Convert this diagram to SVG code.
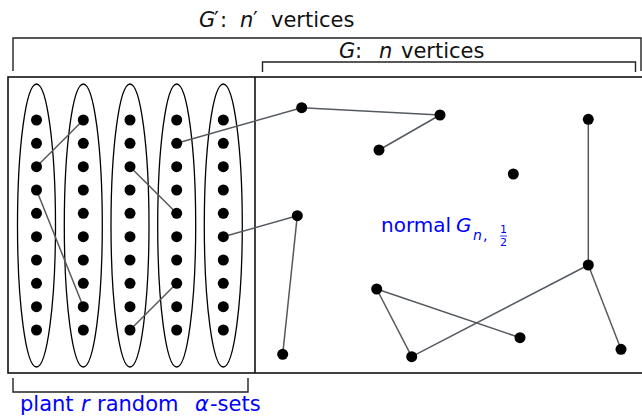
<svg xmlns="http://www.w3.org/2000/svg" width="642" height="416" viewBox="0 0 642 416">
<style>
.t{font-family:"DejaVu Sans",sans-serif;font-size:21px;fill:#111}
.b{fill:#0000ff}
.it{font-style:italic}
.dot{fill:#000}
.ell{fill:none;stroke:#000;stroke-width:1.3}
.frame{fill:none;stroke:#111;stroke-width:1.6}
.br{fill:none;stroke:#222;stroke-width:1.4}
.e{stroke:#555a60;stroke-width:1.5;fill:none}
</style>
<rect x="0" y="0" width="642" height="416" fill="#fff"/>
<g id="labels">
<text class="t" y="27"><tspan x="199" class="it">G</tspan><tspan x="214">′</tspan><tspan x="220">:</tspan><tspan x="240" class="it">n</tspan><tspan x="253">′</tspan><tspan x="271">vertices</tspan></text>
<text class="t" y="58"><tspan x="339" class="it">G</tspan><tspan x="355">:</tspan><tspan x="379" class="it">n</tspan><tspan x="401">vertices</tspan></text>
<text class="t b" y="411"><tspan x="20">plant</tspan><tspan x="81" class="it">r</tspan><tspan x="97">random</tspan><tspan x="195" class="it">α</tspan><tspan x="210">-sets</tspan></text>
<text class="t b" y="232" style="font-size:20px"><tspan x="381">normal</tspan><tspan x="456" class="it">G</tspan></text>
<text class="t b it" x="473" y="240" style="font-size:14px">n<tspan dx="1" style="font-style:normal">,</tspan></text>
<text class="t b" x="503.5" y="233" style="font-size:11px" text-anchor="middle">1</text>
<line x1="500" y1="236" x2="507" y2="236" stroke="#0000ff" stroke-width="0.8"/>
<text class="t b" x="503.5" y="246" style="font-size:11px" text-anchor="middle">2</text>
</g>
<g id="brackets">
<path class="br" d="M13,71 V38 H641 V71"/>
<path class="br" d="M262.5,72 V62 H635.5 V72"/>
<path class="br" d="M13,378 V392 H248 V378"/>
</g>
<g id="frame">
<rect class="frame" x="8" y="77" width="650" height="296"/>
<line class="frame" x1="255" y1="77" x2="255" y2="373"/>
</g>
<g id="sets">
<ellipse class="ell" cx="36.5" cy="225.5" rx="19" ry="141.5"/>
<ellipse class="ell" cx="83.3" cy="225.5" rx="19" ry="141.5"/>
<ellipse class="ell" cx="130" cy="225.5" rx="19" ry="141.5"/>
<ellipse class="ell" cx="176.7" cy="225.5" rx="19" ry="141.5"/>
<ellipse class="ell" cx="223.3" cy="225.5" rx="19" ry="141.5"/>
</g>
<g id="connectors">
<line class="e" x1="36.5" y1="166.7" x2="83.3" y2="120"/>
<line class="e" x1="36.5" y1="190" x2="83.3" y2="306.7"/>
<line class="e" x1="130" y1="166.7" x2="176.7" y2="213.3"/>
<line class="e" x1="130" y1="330" x2="176.7" y2="283.3"/>
<line class="e" x1="176.7" y1="143.3" x2="301.7" y2="107.7"/>
<line class="e" x1="223.3" y1="236.7" x2="297.3" y2="215.7"/>
<line class="e" x1="301.7" y1="107.7" x2="440" y2="115"/>
<line class="e" x1="440" y1="115" x2="379" y2="150"/>
<line class="e" x1="588.3" y1="119.3" x2="588.3" y2="265"/>
<line class="e" x1="297.3" y1="215.7" x2="282.7" y2="354.3"/>
<line class="e" x1="376.7" y1="289" x2="520" y2="337.7"/>
<line class="e" x1="376.7" y1="289" x2="411.7" y2="356.7"/>
<line class="e" x1="411.7" y1="356.7" x2="588.3" y2="265"/>
<line class="e" x1="588.3" y1="265" x2="621" y2="349.3"/>
</g>
<g id="c1">
<g id="v1_0"><circle class="dot" cx="36.5" cy="120" r="5.5"/></g>
<g id="v1_1"><circle class="dot" cx="36.5" cy="143.3" r="5.5"/></g>
<g id="v1_2"><circle class="dot" cx="36.5" cy="166.7" r="5.5"/></g>
<g id="v1_3"><circle class="dot" cx="36.5" cy="190" r="5.5"/></g>
<g id="v1_4"><circle class="dot" cx="36.5" cy="213.3" r="5.5"/></g>
<g id="v1_5"><circle class="dot" cx="36.5" cy="236.7" r="5.5"/></g>
<g id="v1_6"><circle class="dot" cx="36.5" cy="260" r="5.5"/></g>
<g id="v1_7"><circle class="dot" cx="36.5" cy="283.3" r="5.5"/></g>
<g id="v1_8"><circle class="dot" cx="36.5" cy="306.7" r="5.5"/></g>
<g id="v1_9"><circle class="dot" cx="36.5" cy="330" r="5.5"/></g>
</g>
<g id="c2">
<g id="v2_0"><circle class="dot" cx="83.3" cy="120" r="5.5"/></g>
<g id="v2_1"><circle class="dot" cx="83.3" cy="143.3" r="5.5"/></g>
<g id="v2_2"><circle class="dot" cx="83.3" cy="166.7" r="5.5"/></g>
<g id="v2_3"><circle class="dot" cx="83.3" cy="190" r="5.5"/></g>
<g id="v2_4"><circle class="dot" cx="83.3" cy="213.3" r="5.5"/></g>
<g id="v2_5"><circle class="dot" cx="83.3" cy="236.7" r="5.5"/></g>
<g id="v2_6"><circle class="dot" cx="83.3" cy="260" r="5.5"/></g>
<g id="v2_7"><circle class="dot" cx="83.3" cy="283.3" r="5.5"/></g>
<g id="v2_8"><circle class="dot" cx="83.3" cy="306.7" r="5.5"/></g>
<g id="v2_9"><circle class="dot" cx="83.3" cy="330" r="5.5"/></g>
</g>
<g id="c3">
<g id="v3_0"><circle class="dot" cx="130" cy="120" r="5.5"/></g>
<g id="v3_1"><circle class="dot" cx="130" cy="143.3" r="5.5"/></g>
<g id="v3_2"><circle class="dot" cx="130" cy="166.7" r="5.5"/></g>
<g id="v3_3"><circle class="dot" cx="130" cy="190" r="5.5"/></g>
<g id="v3_4"><circle class="dot" cx="130" cy="213.3" r="5.5"/></g>
<g id="v3_5"><circle class="dot" cx="130" cy="236.7" r="5.5"/></g>
<g id="v3_6"><circle class="dot" cx="130" cy="260" r="5.5"/></g>
<g id="v3_7"><circle class="dot" cx="130" cy="283.3" r="5.5"/></g>
<g id="v3_8"><circle class="dot" cx="130" cy="306.7" r="5.5"/></g>
<g id="v3_9"><circle class="dot" cx="130" cy="330" r="5.5"/></g>
</g>
<g id="c4">
<g id="v4_0"><circle class="dot" cx="176.7" cy="120" r="5.5"/></g>
<g id="v4_1"><circle class="dot" cx="176.7" cy="143.3" r="5.5"/></g>
<g id="v4_2"><circle class="dot" cx="176.7" cy="166.7" r="5.5"/></g>
<g id="v4_3"><circle class="dot" cx="176.7" cy="190" r="5.5"/></g>
<g id="v4_4"><circle class="dot" cx="176.7" cy="213.3" r="5.5"/></g>
<g id="v4_5"><circle class="dot" cx="176.7" cy="236.7" r="5.5"/></g>
<g id="v4_6"><circle class="dot" cx="176.7" cy="260" r="5.5"/></g>
<g id="v4_7"><circle class="dot" cx="176.7" cy="283.3" r="5.5"/></g>
<g id="v4_8"><circle class="dot" cx="176.7" cy="306.7" r="5.5"/></g>
<g id="v4_9"><circle class="dot" cx="176.7" cy="330" r="5.5"/></g>
</g>
<g id="c5">
<g id="v5_0"><circle class="dot" cx="223.3" cy="120" r="5.5"/></g>
<g id="v5_1"><circle class="dot" cx="223.3" cy="143.3" r="5.5"/></g>
<g id="v5_2"><circle class="dot" cx="223.3" cy="166.7" r="5.5"/></g>
<g id="v5_3"><circle class="dot" cx="223.3" cy="190" r="5.5"/></g>
<g id="v5_4"><circle class="dot" cx="223.3" cy="213.3" r="5.5"/></g>
<g id="v5_5"><circle class="dot" cx="223.3" cy="236.7" r="5.5"/></g>
<g id="v5_6"><circle class="dot" cx="223.3" cy="260" r="5.5"/></g>
<g id="v5_7"><circle class="dot" cx="223.3" cy="283.3" r="5.5"/></g>
<g id="v5_8"><circle class="dot" cx="223.3" cy="306.7" r="5.5"/></g>
<g id="v5_9"><circle class="dot" cx="223.3" cy="330" r="5.5"/></g>
</g>
<g id="g_nodes">
<g id="gA"><circle class="dot" cx="301.7" cy="107.7" r="5.5"/></g>
<g id="gB"><circle class="dot" cx="440" cy="115" r="5.5"/></g>
<g id="gC"><circle class="dot" cx="379" cy="150" r="5.5"/></g>
<g id="gD"><circle class="dot" cx="588.3" cy="119.3" r="5.5"/></g>
<g id="gE"><circle class="dot" cx="513.3" cy="174" r="5.5"/></g>
<g id="gF"><circle class="dot" cx="297.3" cy="215.7" r="5.5"/></g>
<g id="gG"><circle class="dot" cx="282.7" cy="354.3" r="5.5"/></g>
<g id="gH"><circle class="dot" cx="376.7" cy="289" r="5.5"/></g>
<g id="gI"><circle class="dot" cx="411.7" cy="356.7" r="5.5"/></g>
<g id="gJ"><circle class="dot" cx="520" cy="337.7" r="5.5"/></g>
<g id="gK"><circle class="dot" cx="588.3" cy="265" r="5.5"/></g>
<g id="gL"><circle class="dot" cx="621" cy="349.3" r="5.5"/></g>
</g>
</svg>
